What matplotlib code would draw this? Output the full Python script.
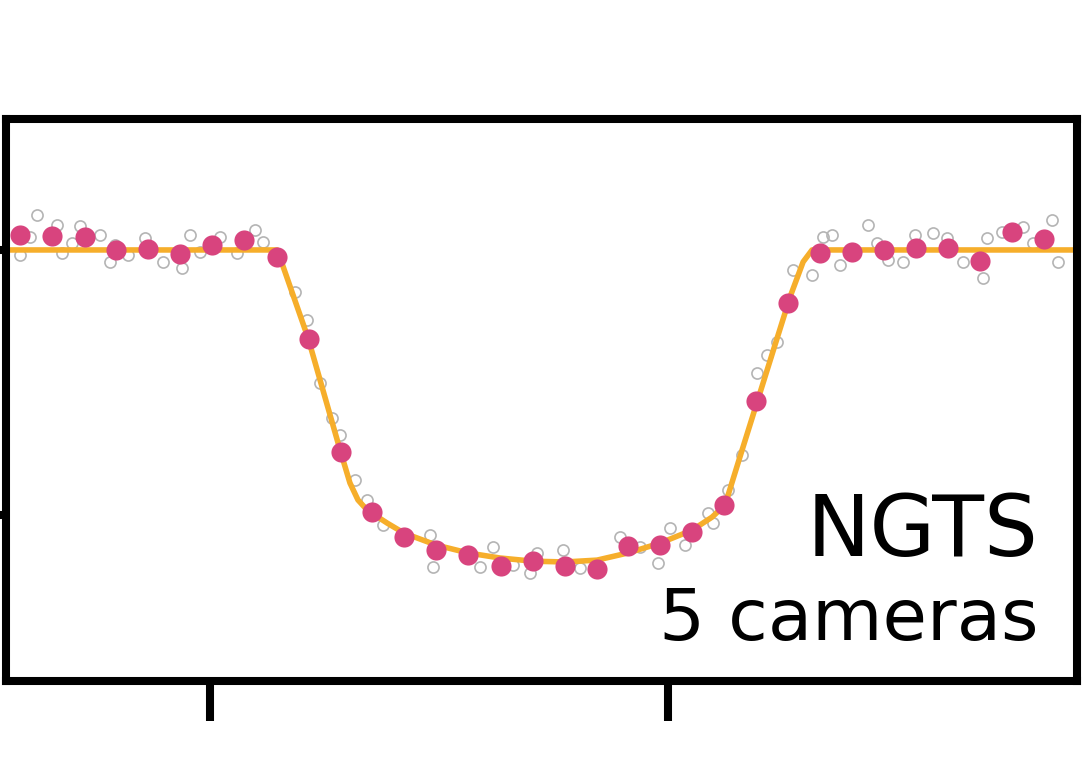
import matplotlib
matplotlib.use('Agg')
import matplotlib.pyplot as plt
import numpy as np

# time from reference epoch (hours) and relative flux
raw_t = [-2.830, -2.786, -2.755, -2.668, -2.646, -2.603, -2.568, -2.480, -2.437, -2.415,
         -2.358, -2.284, -2.205, -2.122, -2.087, -2.044, -1.956, -1.882, -1.803, -1.769,
         -1.629, -1.576, -1.520, -1.467, -1.432, -1.367, -1.314, -1.245,
         -1.039, -1.026, -0.821, -0.764, -0.677, -0.572, -0.603, -0.459, -0.384, -0.210,
         -0.122, -0.044, 0.009, 0.074, 0.175, 0.197,
         0.262, 0.323, 0.389, 0.432, 0.476, 0.546, 0.629, 0.677,
         0.716, 0.751, 0.873, 0.913, 0.961, 1.026, 1.079, 1.157, 1.218, 1.288,
         1.376, 1.393, 1.459, 1.550, 1.594, 1.677, 1.703]
raw_f = [0.99981, 1.00049, 1.00132, 1.00094, 0.99989, 1.00026, 1.00091, 1.00057, 0.99955, 1.00019,
         0.99981, 1.00045, 0.99955, 0.99932, 1.00057, 0.99992, 1.00049, 0.99989, 1.00075, 1.00030,
         0.99842, 0.99736, 0.99498, 0.99366, 0.99302, 0.99132, 0.99057, 0.98962,
         0.98925, 0.98804, 0.98804, 0.98879, 0.98811, 0.98857, 0.98781, 0.98868, 0.98800, 0.98917,
         0.98879, 0.98819, 0.98951, 0.98887, 0.99008, 0.98970,
         0.99094, 0.99226, 0.99536, 0.99604, 0.99653, 0.99925, 0.99906, 1.00049,
         1.00057, 0.99943, 1.00094, 1.00026, 0.99962, 0.99955, 1.00057, 1.00064, 1.00045, 0.99955,
         0.99894, 1.00045, 1.00068, 1.00087, 1.00026, 1.00113, 0.99955]

bin_t = [-2.830, -2.690, -2.546, -2.410, -2.271, -2.131, -1.991, -1.852, -1.707, -1.568,
         -1.428, -1.293, -1.153, -1.013, -0.873, -0.729, -0.590, -0.450, -0.310, -0.175,
         -0.035, 0.105, 0.245, 0.384, 0.524, 0.664, 0.803, 0.943, 1.083, 1.223,
         1.362, 1.502, 1.642]
bin_f = [1.00057, 1.00053, 1.00049, 1.00000, 1.00004, 0.99985, 1.00019, 1.00038, 0.99974, 0.99664,
         0.99238, 0.99011, 0.98917, 0.98868, 0.98849, 0.98808, 0.98826, 0.98808, 0.98796, 0.98883,
         0.98887, 0.98936, 0.99038, 0.99430, 0.99800, 0.99989, 0.99992, 1.00000, 1.00008, 1.00008,
         0.99958, 1.00068, 1.00042]

model_t = [-2.95, -1.707, -1.694, -1.572, -1.432, -1.389, -1.354, -1.314, -1.227, -1.153,
           -1.013, -0.873, -0.734, -0.590, -0.450, -0.310, -0.175, -0.035, 0.105, 0.192,
           0.249, 0.314, 0.389, 0.459, 0.533, 0.590, 0.629, 1.85]
model_f = [1.0, 1.0, 0.99970, 0.99668, 0.99245, 0.99121, 0.99057, 0.99019, 0.98970, 0.98932,
           0.98887, 0.98857, 0.98838, 0.98826, 0.98823, 0.98830, 0.98857, 0.98894, 0.98943, 0.98992,
           0.99038, 0.99219, 0.99426, 0.99619, 0.99823, 0.99955, 1.0, 1.0]

fig = plt.figure(figsize=(10.82, 7.68), dpi=100)
ax = fig.add_axes([0.005545, 0.11328, 0.98983, 0.73177])

ax.plot(raw_t, raw_f, 'o', ms=8, mfc='none', mec='#b4b4b4', mew=1.2, zorder=1)
ax.plot(model_t, model_f, '-', color='#f6ae2b', lw=4, zorder=2)
ax.plot(bin_t, bin_f, 'o', ms=14.5, color='#d8447e', mec='none', zorder=3)

ax.set_xlim(-2.891, 1.786)
ax.set_ylim(0.98374, 1.00494)
ax.set_xticks([-2, 0])
ax.set_yticks([0.99, 1.00])
ax.tick_params(direction='out', length=29, width=5.8, labelbottom=False, labelleft=False)
for s in ax.spines.values():
    s.set_linewidth(5.8)

ax.text(0.9645, 0.223, 'NGTS', transform=ax.transAxes, ha='right', va='baseline', fontsize=61)
ax.text(0.9645, 0.073, '5 cameras', transform=ax.transAxes, ha='right', va='baseline', fontsize=52)

fig.savefig('out.png', dpi=100)
